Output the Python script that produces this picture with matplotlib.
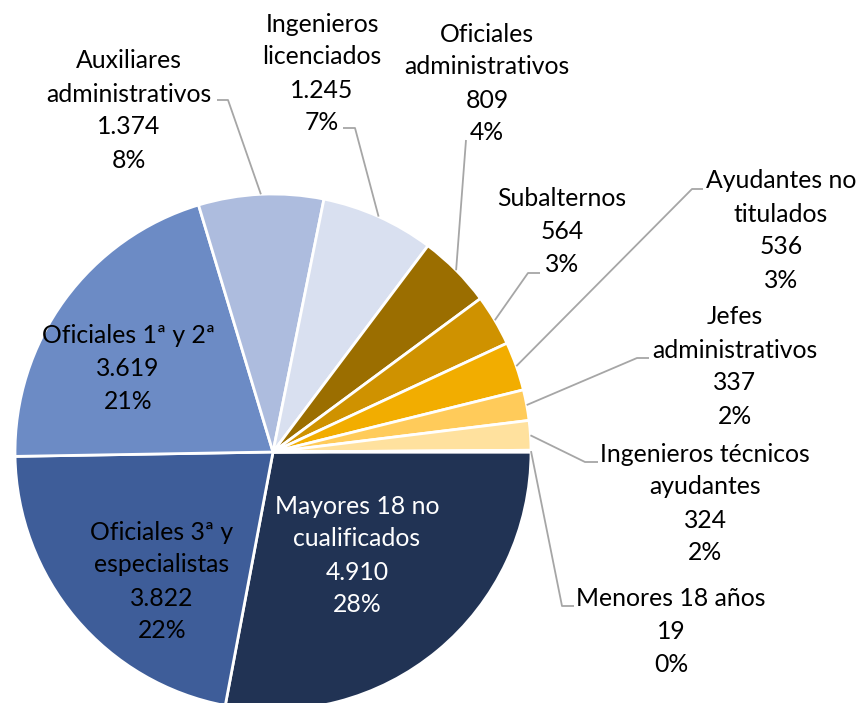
import numpy as np
import matplotlib
matplotlib.use("Agg")
import matplotlib.pyplot as plt

categories = ["Mayores 18 no\ncualificados", "Oficiales 3ª y\nespecialistas", "Oficiales 1ª y 2ª",
              "Auxiliares\nadministrativos", "Ingenieros\nlicenciados", "Oficiales\nadministrativos",
              "Subalternos", "Ayudantes no\ntitulados", "Jefes\nadministrativos",
              "Ingenieros técnicos\nayudantes", "Menores 18 años"]
values = [4910, 3822, 3619, 1374, 1245, 809, 564, 536, 337, 324, 19]
value_labels = ["4.910", "3.822", "3.619", "1.374", "1.245", "809", "564", "536", "337", "324", "19"]
pct_labels = ["28%", "22%", "21%", "8%", "7%", "4%", "3%", "3%", "2%", "2%", "0%"]
colors = ["#213354", "#3E5D99", "#6C8BC5", "#ADBCDE", "#D9E0F0", "#9B6E00",
          "#CF9200", "#F2AD00", "#FFCB5A", "#FFE19E", "#FFF0CC"]

W, H = 858, 703
fig = plt.figure(figsize=(W / 100, H / 100), dpi=100)
ax = fig.add_axes([0, 0, 1, 1])

def Y(y):
    return H - y

CX, CY, R = 273, 452, 258
wedges, _ = ax.pie(values, colors=colors, startangle=0, counterclock=False,
                   center=(CX, Y(CY)), radius=R,
                   wedgeprops=dict(edgecolor="white", linewidth=2))
ax.set_xlim(0, W)
ax.set_ylim(0, H)
ax.set_aspect("auto")
ax.axis("off")

FONT = ["Lato", "DejaVu Sans"]
FS = 17.8
LS = 33  # line spacing in px

# label layout: (x_center, y_center_of_block, text color, leader points [text end, elbow] or None)
layout = [
    (357, 555, "white", None),
    (162, 581, "black", None),
    (128, 368, "black", None),
    (129, 110, "black", [(217, 100), (228, 100)]),
    (322, 73, "black", [(343, 128), (355, 128)]),
    (487, 83, "black", [(466, 140)]),
    (562, 231, "black", [(540, 273), (528, 273)]),
    (781, 230, "black", [(703, 189), (692, 189)]),
    (735, 366, "black", [(649, 358), (637, 358)]),
    (705, 503, "black", [(598, 462), (585, 462)]),
    (671, 631, "black", [(574, 606), (562, 606)]),
]

for i, (w, cat) in enumerate(zip(wedges, categories)):
    x, yc, col, leader = layout[i]
    lines = cat.split("\n") + [value_labels[i], pct_labels[i]]
    n = len(lines)
    for k, line in enumerate(lines):
        ly = yc + (k - (n - 1) / 2) * LS
        ax.text(x, Y(ly + 8), line, ha="center", va="baseline", fontsize=FS,
                family=FONT, color=col)
    if leader is not None:
        mid = np.deg2rad((w.theta1 + w.theta2) / 2)
        ex = CX + R * np.cos(mid)
        ey = Y(CY) + R * np.sin(mid)
        xs = [p[0] for p in leader] + [ex]
        ys = [Y(p[1]) for p in leader] + [ey]
        ax.plot(xs, ys, color="#A6A6A6", lw=1.3, solid_capstyle="butt")

fig.savefig("out.png", dpi=100)
